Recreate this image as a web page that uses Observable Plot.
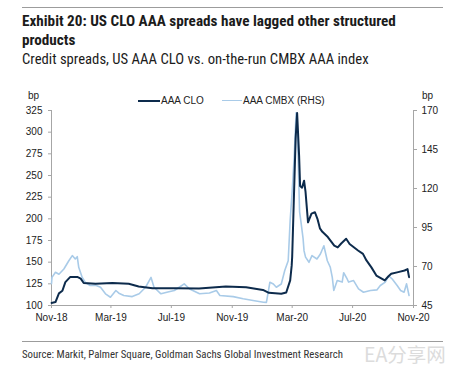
<!DOCTYPE html>
<html><head><meta charset="utf-8">
<script src="https://cdn.jsdelivr.net/npm/d3@7"></script>
<script src="https://cdn.jsdelivr.net/npm/@observablehq/plot@0.6"></script>
<style>
body{margin:0;background:#fff;}
#wrap{position:relative;width:455px;height:367px;overflow:hidden;background:#fff;font-family:Arial,"Liberation Sans",sans-serif;}
.rule{position:absolute;left:22px;width:421px;height:0;border-top:1px solid #9c9c9c;}
.narrow{font-family:"Liberation Sans Narrow","Arial Narrow","Roboto Condensed",sans-serif;}
#title{position:absolute;left:22px;top:12px;font-size:15.2px;font-weight:bold;line-height:19px;color:#1b1b1b;white-space:nowrap;}
#subtitle{position:absolute;left:22px;top:50px;font-size:14.7px;line-height:18px;color:#1b1b1b;white-space:nowrap;}
#chart{position:absolute;left:0;top:78px;}
.lbl{position:absolute;font-size:10px;color:#222;white-space:nowrap;line-height:12px;}
.sw{position:absolute;height:0;}
#source{position:absolute;left:22px;top:348px;font-size:10.8px;color:#333;white-space:nowrap;line-height:14px;}
#wm{position:absolute;left:364px;top:343px;font-size:19.5px;color:#dcdcdc;white-space:nowrap;line-height:22px;font-family:"Noto Sans CJK SC",sans-serif;}
</style></head>
<body>
<div id="wrap">
  <div class="rule" style="top:7px"></div>
  <div id="title" class="narrow">Exhibit 20: US CLO AAA spreads have lagged other structured<br>products</div>
  <div id="subtitle" class="narrow">Credit spreads, US AAA CLO vs. on-the-run CMBX AAA index</div>
  <div id="chart"></div>
  <div class="lbl" style="left:28px;top:90px">bp</div>
  <div class="lbl" style="left:422px;top:90px">bp</div>
  <div class="sw" style="left:138px;top:100px;width:22px;border-top:2px solid #0d2b4c"></div>
  <div class="lbl" style="left:161px;top:95px">AAA CLO</div>
  <div class="sw" style="left:222px;top:100px;width:20px;border-top:1.5px solid #a9cbe8"></div>
  <div class="lbl" style="left:243px;top:95px">AAA CMBX (RHS)</div>
  <div class="rule" style="top:341px"></div>
  <div id="source" class="narrow">Source: Markit, Palmer Square, Goldman Sachs Global Investment Research</div>
  <div id="wm">EA分享网</div>
</div>
<script>
// AAA CLO spread (bp, left axis)
const cloDates = ["2018-11-01","2018-11-09","2018-11-16","2018-11-23","2018-11-29","2018-12-09","2018-12-23","2018-12-30","2019-01-05","2019-01-29","2019-03-04","2019-04-06","2019-04-26","2019-05-24","2019-06-26","2019-07-10","2019-08-26","2019-10-19","2019-11-29","2020-01-02","2020-01-14","2020-02-08","2020-02-18","2020-02-26","2020-02-29","2020-03-01","2020-03-04","2020-03-08","2020-03-11","2020-03-15","2020-03-17","2020-03-21","2020-03-25","2020-03-28","2020-04-02","2020-04-09","2020-04-16","2020-04-21","2020-04-26","2020-05-01","2020-05-12","2020-05-25","2020-06-01","2020-06-08","2020-06-18","2020-06-25","2020-07-12","2020-07-22","2020-07-29","2020-08-08","2020-08-18","2020-09-04","2020-09-11","2020-09-17","2020-10-01","2020-10-14","2020-10-20","2020-10-23"];
const cloValues = [103,104,114,117,127,133,133,131,126,125,126,125,122,120,120,120,119.5,122,121,118,114.6,113.5,115,129,146,156,215,293,322,273,238,236,244,231,196,206,207.6,200,189,185,179,169,167,171.5,177,171,163.5,159.6,152,144,134.6,129,133.5,136.6,138.5,140.4,142,132.7];
// AAA CMBX spread (bp, right axis)
const cmbxDates = ["2018-11-01","2018-11-02","2018-11-09","2018-11-16","2018-11-26","2018-12-06","2018-12-13","2018-12-19","2018-12-23","2018-12-26","2019-01-02","2019-01-08","2019-01-18","2019-01-29","2019-02-08","2019-02-18","2019-02-28","2019-03-11","2019-03-17","2019-03-27","2019-04-13","2019-04-27","2019-05-10","2019-05-21","2019-05-27","2019-06-10","2019-06-24","2019-07-07","2019-07-17","2019-07-27","2019-08-07","2019-08-27","2019-09-16","2019-09-30","2019-10-07","2019-11-03","2019-11-23","2019-12-13","2020-01-03","2020-01-09","2020-01-16","2020-01-23","2020-01-29","2020-02-08","2020-02-15","2020-02-22","2020-02-26","2020-03-01","2020-03-05","2020-03-09","2020-03-13","2020-03-16","2020-03-19","2020-03-23","2020-03-25","2020-03-28","2020-04-04","2020-04-10","2020-04-20","2020-04-27","2020-05-04","2020-05-11","2020-05-17","2020-05-21","2020-05-24","2020-05-31","2020-06-10","2020-06-13","2020-06-20","2020-06-23","2020-07-03","2020-07-13","2020-07-23","2020-08-06","2020-08-19","2020-08-26","2020-09-05","2020-09-12","2020-09-19","2020-09-29","2020-10-06","2020-10-13","2020-10-18","2020-10-23"];
const cmbxValues = [59,63,66.3,65,68.4,73.7,77,74.8,76.3,69.5,63,59.9,57.8,58,56.7,52.5,50.3,54.6,52.9,51.4,50.7,52.5,56.7,63,56.7,52.5,53.7,54.6,56.7,58.9,55.6,52.5,53,54.6,51.4,50.7,49.3,48.2,47.1,47,59.9,58.8,56.7,58.8,67.4,73.7,100,118,140,168.5,140,105,98,88,80,76,72.7,77,74.8,78,83.3,73.7,69.5,63,54.6,61,60,66,62,60,61,55.7,53.5,54.6,55,57.8,60,64,62,57.8,54.6,53.5,58.9,51.4];
// axes
const xTicks = ["2018-11-01","2019-03-01","2019-07-01","2019-11-01","2020-03-01","2020-07-01","2020-11-01"];
const leftTicks = [100,125,150,175,200,225,250,275,300,325];
const rightTicks = [45,70,95,120,145,170];
const xDomain = ["2018-11-01","2020-11-01"];

const L0 = 100, L1 = 325, R0 = 45, R1 = 170;
const toL = r => L0 + (r - R0) * (L1 - L0) / (R1 - R0);
const toR = l => R0 + (l - L0) * (R1 - R0) / (L1 - L0);

const clo = cloDates.map((d, i) => ({date: new Date(d), v: cloValues[i]}));
const cmbx = cmbxDates.map((d, i) => ({date: new Date(d), v: toL(cmbxValues[i])}));

const grey = "#a6a6a6";
const chart = Plot.plot({
  width: 455, height: 257,
  marginLeft: 51, marginRight: 42, marginTop: 32, marginBottom: 30,
  style: {fontFamily: "Arial, 'Liberation Sans', sans-serif", fontSize: "10px", color: "#222", background: "transparent"},
  x: {type: "utc", domain: xDomain.map(d => new Date(d)), label: null},
  y: {domain: [L0, L1], label: null},
  marks: [
    Plot.ruleX([new Date(xDomain[0]), new Date(xDomain[1])], {stroke: grey, strokeWidth: 1}),
    Plot.ruleY([L0], {stroke: grey, strokeWidth: 1}),
    Plot.axisY({anchor: "left", ticks: leftTicks, tickSize: 3, tickPadding: 6, stroke: grey, fill: "#222", label: null}),
    Plot.axisY({anchor: "right", ticks: rightTicks.map(toL), tickFormat: v => String(Math.round(toR(v))), tickSize: 3, tickPadding: 5, stroke: grey, fill: "#222", label: null}),
    Plot.axisX({ticks: xTicks.map(d => new Date(d)), tickFormat: d3.utcFormat("%b-%y"), tickSize: 3, tickPadding: 5, stroke: grey, fill: "#222", label: null}),
    Plot.line(cmbx, {x: "date", y: "v", stroke: "#a9cbe8", strokeWidth: 1.6}),
    Plot.line(clo, {x: "date", y: "v", stroke: "#0d2b4c", strokeWidth: 2})
  ]
});
document.getElementById("chart").appendChild(chart);
</script>
</body></html>
